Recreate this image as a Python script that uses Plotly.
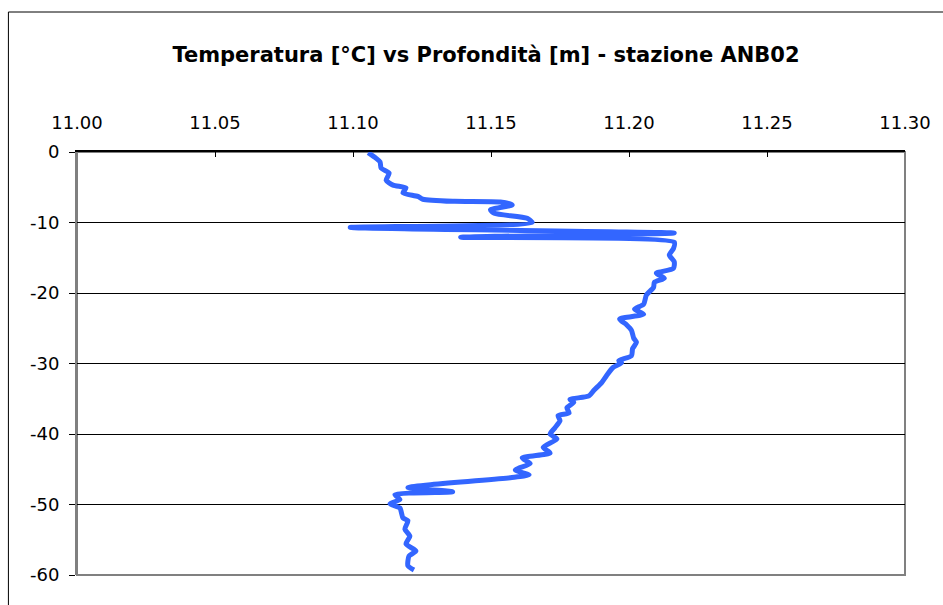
import plotly.graph_objects as go

temperatura = [11.1055, 11.1084, 11.1098, 11.1102, 11.1131, 11.1120, 11.1145, 11.1192, 11.1181, 11.1235,
               11.1253, 11.1368, 11.1534, 11.1577, 11.1498, 11.1512, 11.1631, 11.1649, 11.0990, 11.2164,
               11.1390, 11.2164, 11.2161, 11.2146, 11.2164, 11.2161, 11.2099, 11.2128, 11.2092, 11.2089,
               11.2063, 11.2053, 11.2020, 11.2053, 11.1966, 11.1991, 11.2009, 11.2017, 11.2027, 11.2013,
               11.2009, 11.1963, 11.1973, 11.1941, 11.1919, 11.1901, 11.1873, 11.1855, 11.1786, 11.1800,
               11.1775, 11.1783, 11.1743, 11.1750, 11.1732, 11.1714, 11.1739, 11.1689, 11.1714, 11.1613,
               11.1642, 11.1588, 11.1638, 11.1570, 11.1199, 11.1361, 11.1152, 11.1170, 11.1134, 11.1170,
               11.1181, 11.1199, 11.1188, 11.1206, 11.1192, 11.1228, 11.1203, 11.1199, 11.1221]
profondita = [-0.1, -0.9, -1.4, -2.3, -3.0, -4.0, -4.7, -5.1, -5.8, -6.3,
              -6.7, -7.0, -7.1, -7.5, -8.2, -8.7, -9.4, -10.0, -10.7, -11.5,
              -12.1, -12.8, -13.7, -14.6, -15.6, -16.5, -17.2, -17.9, -18.5, -19.2,
              -20.3, -21.6, -22.3, -23.0, -23.7, -24.5, -25.3, -26.4, -27.0, -27.9,
              -28.9, -29.6, -29.9, -30.6, -31.7, -32.7, -33.8, -34.6, -35.1, -35.5,
              -36.3, -37.0, -37.4, -38.1, -39.1, -40.0, -40.7, -41.9, -42.7, -43.4,
              -44.2, -45.1, -45.8, -46.2, -47.6, -48.2, -48.6, -49.3, -49.9, -50.5,
              -51.9, -52.3, -53.5, -54.5, -55.6, -56.6, -57.3, -58.7, -59.3]

x_ticks = [11.00, 11.05, 11.10, 11.15, 11.20, 11.25, 11.30]
x_labels = ["11.00", "11.05", "11.10", "11.15", "11.20", "11.25", "11.30"]
y_ticks = [0, -10, -20, -30, -40, -50, -60]
y_labels = ["0", "-10", "-20", "-30", "-40", "-50", "-60"]

title = "Temperatura [°C] vs Profondità [m] - stazione ANB02"

FONT = "DejaVu Sans, Arial, sans-serif"

fig = go.Figure()
fig.add_trace(go.Scatter(
    x=temperatura, y=profondita, mode="lines",
    line=dict(color="#3366FF", width=5, shape="spline", smoothing=0.6),
    showlegend=False, hoverinfo="x+y",
))

fig.update_layout(
    width=943, height=605,
    margin=dict(l=77, r=33, t=152, b=30),
    paper_bgcolor="white", plot_bgcolor="white",
    font=dict(family=FONT, color="black", size=18),
    title=dict(text="<b>" + title + "</b>", x=486 / 943, xanchor="center",
               y=1 - 55 / 605, yanchor="middle",
               font=dict(family=FONT, size=21, color="black")),
    xaxis=dict(
        side="top", range=[11.0, 11.3], tickvals=x_ticks, ticktext=x_labels,
        ticks="inside", ticklen=5, tickcolor="black", tickwidth=1,
        showline=True, linecolor="black", linewidth=1.5,
        showgrid=False, zeroline=False, ticklabelstandoff=14,
        tickfont=dict(family=FONT, size=18, color="black"),
    ),
    yaxis=dict(
        range=[-60, 0], tickvals=y_ticks, ticktext=y_labels,
        ticks="outside", ticklen=6, tickcolor="black", tickwidth=1,
        showline=True, linecolor="#808080", linewidth=2,
        showgrid=True, gridcolor="black", gridwidth=1, zeroline=False,
        ticklabelstandoff=6,
        tickfont=dict(family=FONT, size=18, color="black"),
    ),
    shapes=[
        dict(type="rect", xref="paper", yref="paper", x0=0, x1=1, y0=0, y1=1,
             line=dict(color="#808080", width=2), layer="below"),
        dict(type="rect", xref="paper", yref="paper",
             x0=(8 - 77) / 833, x1=(1000 - 77) / 833,
             y0=-(650 - 575) / 423, y1=1 + (152 - 12) / 423,
             line=dict(color="black", width=1), layer="below"),
    ],
)

fig.write_html("out.html", config={"displayModeBar": False},
               post_script="document.body.style.margin='0';")
